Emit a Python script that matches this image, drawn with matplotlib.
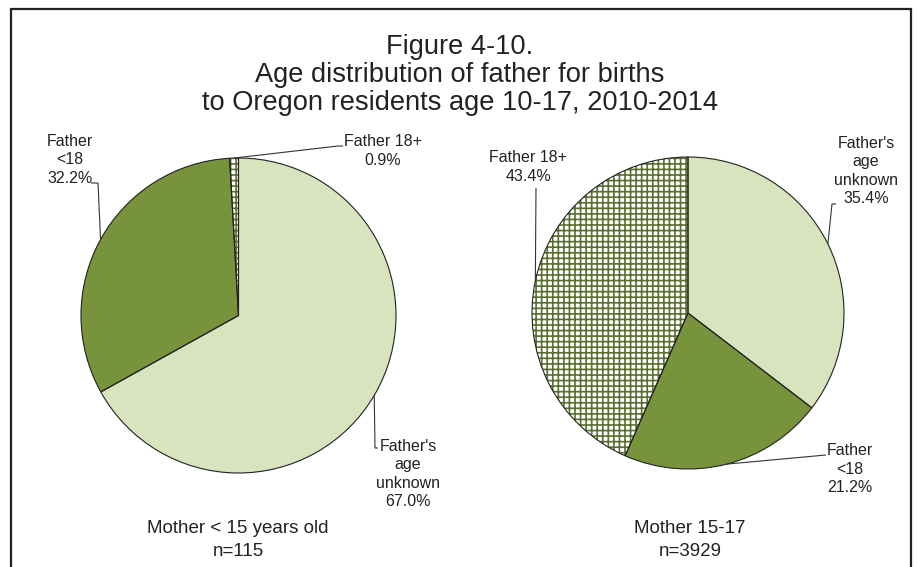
import matplotlib.pyplot as plt
from matplotlib.patches import Rectangle
import numpy as np

plt.rcParams['font.family'] = ['Liberation Sans', 'DejaVu Sans']
plt.rcParams['hatch.linewidth'] = 1.2

W, H = 918, 567

title = "Figure 4-10.\nAge distribution of father for births\nto Oregon residents age 10-17, 2010-2014"
segment_names = ["Father's\nage\nunknown", "Father\n<18", "Father 18+"]
under_15 = [67.0, 32.2, 0.9]
age_15_17 = [35.4, 21.2, 43.4]
panel_captions = ["Mother < 15 years old\nn=115", "Mother 15-17\nn=3929"]

LIGHT = "#d7e4bd"
DARK = "#77933c"
HATCH_GREEN = "#5a7030"
EDGE = "#222222"
TEXT = "#222222"

# layout in pixel units (y measured from top of image)
pies = [
    dict(values=under_15, center=(238.5, 315.5), radius=157.5, caption_xy=(238, 540),
         labels=[((408, 474), [(378, 448), (375, 448)]),
                 ((70, 160), [(91, 183), (98, 183)]),
                 ((383, 151), [(343, 146), (338, 146)])]),
    dict(values=age_15_17, center=(688, 313), radius=156, caption_xy=(690, 540),
         labels=[((866, 171), [(836, 204), (832, 204)]),
                 ((850, 469), [(826, 455)]),
                 ((528, 167), [(536, 188)])]),
]


def py(y):
    return H - y


fig = plt.figure(figsize=(W / 100, H / 100), dpi=100)
ax = fig.add_axes([0, 0, 1, 1])

for spec in pies:
    cx, cy = spec["center"][0], py(spec["center"][1])
    r = spec["radius"]
    wedges, _ = ax.pie(spec["values"], center=(cx, cy), radius=r, startangle=90,
                       counterclock=False, colors=[LIGHT, DARK, "white"],
                       wedgeprops=dict(linewidth=0))
    wedges[2].set_edgecolor(HATCH_GREEN)
    wedges[2].set_linewidth(0)
    wedges[2].set_hatch("+++")
    # outlines on top
    ax.pie(spec["values"], center=(cx, cy), radius=r, startangle=90,
           counterclock=False, colors=["none"] * 3,
           wedgeprops=dict(linewidth=0.8, edgecolor=EDGE))

    for w, val, name, (txy, knee) in zip(wedges, spec["values"], segment_names, spec["labels"]):
        mid = np.deg2rad((w.theta1 + w.theta2) / 2)
        ex, ey = cx + r * np.cos(mid), cy + r * np.sin(mid)
        xs = [k[0] for k in knee] + [ex]
        ys = [py(k[1]) for k in knee] + [ey]
        ax.plot(xs, ys, color="#333333", lw=0.8, solid_capstyle="butt")
        ax.text(txy[0], py(txy[1]), f"{name}\n{val:.1f}%", ha="center", va="center",
                fontsize=11.5, color=TEXT, linespacing=1.29)

for spec, cap in zip(pies, panel_captions):
    ax.text(spec["caption_xy"][0], py(spec["caption_xy"][1]), cap, ha="center", va="center",
            fontsize=13.5, color=TEXT, linespacing=1.45)

ax.text(460, py(75), title, ha="center", va="center", fontsize=19.6, color=TEXT,
        linespacing=1.1)

ax.add_patch(Rectangle((11, -20), 900, py(9) + 20, fill=False, lw=1.6, edgecolor="#222222"))

ax.set_xlim(0, W)
ax.set_ylim(0, H)
ax.set_aspect("auto")
ax.axis("off")

fig.savefig("out.png", dpi=100)
